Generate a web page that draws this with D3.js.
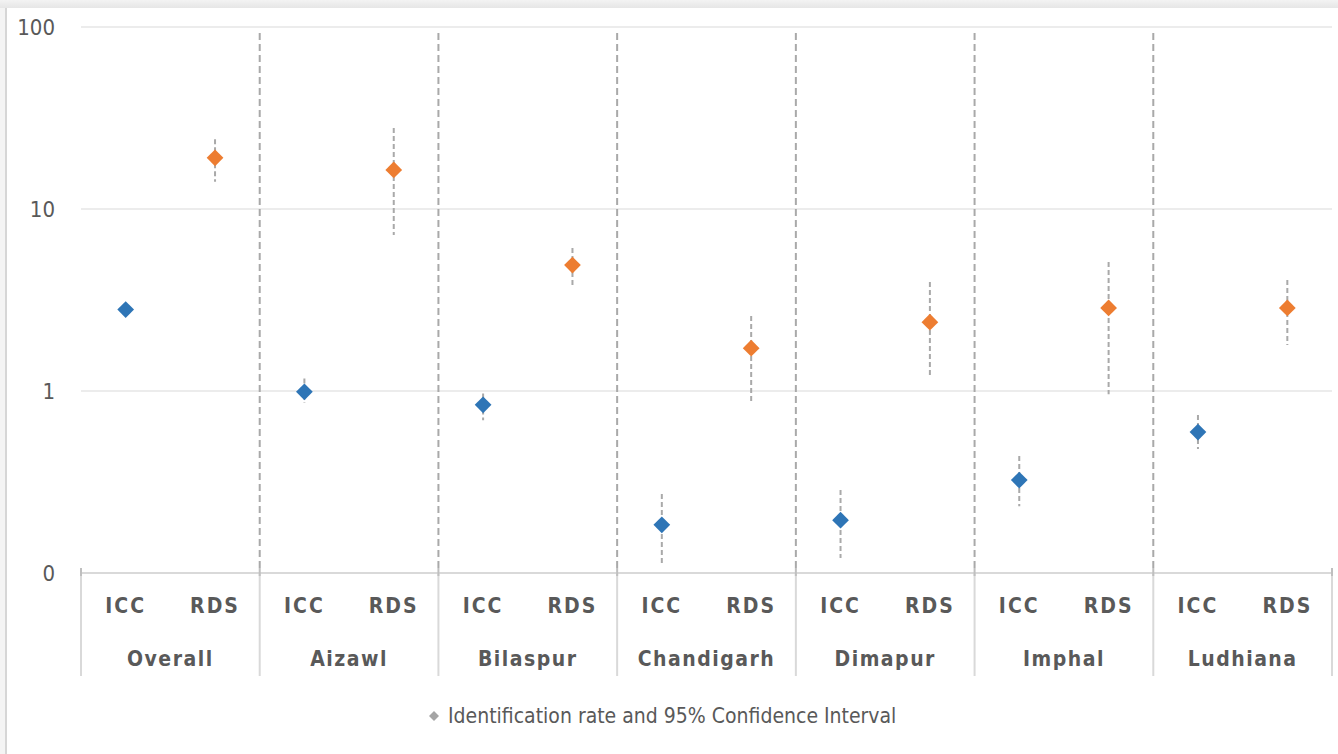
<!DOCTYPE html>
<html>
<head>
<meta charset="utf-8">
<script src="https://cdn.jsdelivr.net/npm/d3@7"></script>
<style>
  html, body { margin: 0; padding: 0; background: #fff; }
  svg { display: block; }
  text { font-family: "Liberation Sans Narrow", "DejaVu Sans Condensed", "Open Sans", sans-serif; fill: #595959; }
</style>
</head>
<body>
<svg id="chart" width="1338" height="754"></svg>
<script>
// Sites (outer axis level) and survey methods (inner axis level)
const sites = ["Overall", "Aizawl", "Bilaspur", "Chandigarh", "Dimapur", "Imphal", "Ludhiana"];
const methods = ["ICC", "RDS"];

// Identification rate (%) per site, one array per method
const iccRate = [2.8, 0.99, 0.84, 0.184, 0.195, 0.324, 0.595];
const rdsRate = [19.1, 16.4, 4.92, 1.72, 2.39, 2.86, 2.86];

// 95% confidence interval bounds
const iccLow  = [2.6, 0.86, 0.69, 0.111, 0.121, 0.233, 0.48];
const iccHigh = [3.0, 1.17, 0.97, 0.272, 0.286, 0.44, 0.738];
const rdsLow  = [14.1, 7.2, 3.68, 0.85, 1.22, 0.96, 1.79];
const rdsHigh = [24.2, 27.9, 6.1, 2.58, 3.97, 5.11, 4.07];

// Y axis ticks and their printed labels
const yTicks = [0.1, 1, 10, 100];
const yTickLabels = ["0", "1", "10", "100"];

const legendLabel = "Identification rate and 95% Confidence Interval";

const colors = { ICC: "#2E75B6", RDS: "#ED7D31" };

const svg = d3.select("#chart");

// Card frame: soft top shadow and a thin left edge
const defs = svg.append("defs");
const grad = defs.append("linearGradient").attr("id", "topShade").attr("x1", 0).attr("y1", 0).attr("x2", 0).attr("y2", 1);
grad.append("stop").attr("offset", "0%").attr("stop-color", "#f3f3f3");
grad.append("stop").attr("offset", "100%").attr("stop-color", "#e6e6e6");
svg.append("rect").attr("x", 0).attr("y", 0).attr("width", 1338).attr("height", 8).attr("fill", "url(#topShade)");
svg.append("rect").attr("x", 0).attr("y", 8).attr("width", 5).attr("height", 746).attr("fill", "#f4f4f4");
svg.append("rect").attr("x", 5).attr("y", 8).attr("width", 2).attr("height", 746).attr("fill", "#d6d6d6");

const plot = { left: 81, right: 1332, top: 27, bottom: 573 };

const y = d3.scaleLog().domain([0.1, 100]).range([plot.bottom, plot.top]);
const xGroup = d3.scaleBand().domain(sites).range([plot.left, plot.right]).paddingInner(0).paddingOuter(0);
const xSub = d3.scaleBand().domain(methods).range([0, xGroup.bandwidth()]);

// Horizontal gridlines
svg.append("g").selectAll("line")
  .data(yTicks.slice(1))
  .join("line")
  .attr("x1", plot.left).attr("x2", plot.right)
  .attr("y1", d => y(d)).attr("y2", d => y(d))
  .attr("stroke", "#ececec").attr("stroke-width", 2);

// Y axis labels
const yAxis = d3.axisLeft(y).tickValues(yTicks).tickFormat((d, i) => yTickLabels[i]).tickSize(0).tickPadding(0);
const yg = svg.append("g").attr("transform", `translate(${plot.left - 26},0)`).call(yAxis);
yg.select(".domain").remove();
yg.selectAll("text")
  .attr("font-size", 22)
  .attr("fill", "#595959")
  .attr("dy", "0.35em")
  .style("font-family", "\"Liberation Sans Narrow\", \"DejaVu Sans Condensed\", sans-serif");

// Dashed separators between sites inside the plot
const inner = sites.slice(1).map(s => xGroup(s));
svg.append("g").selectAll("line")
  .data(inner)
  .join("line")
  .attr("x1", d => d).attr("x2", d => d)
  .attr("y1", 33).attr("y2", plot.bottom)
  .attr("stroke", "#a9a9a9").attr("stroke-width", 2)
  .attr("stroke-dasharray", "7,4");

// Category axis: baseline, boundary lines below the plot
const bounds = sites.map(s => xGroup(s)).concat([plot.right]);
svg.append("line")
  .attr("x1", plot.left).attr("x2", plot.right)
  .attr("y1", plot.bottom).attr("y2", plot.bottom)
  .attr("stroke", "#d9d9d9").attr("stroke-width", 2);
svg.append("g").selectAll("line")
  .data(bounds)
  .join("line")
  .attr("x1", d => d).attr("x2", d => d)
  .attr("y1", plot.bottom).attr("y2", 676)
  .attr("stroke", "#d9d9d9").attr("stroke-width", 2);
svg.append("g").selectAll("line")
  .data(bounds)
  .join("line")
  .attr("x1", d => d).attr("x2", d => d)
  .attr("y1", plot.bottom - 5).attr("y2", plot.bottom + 3)
  .attr("stroke", "#bfbfbf").attr("stroke-width", 2);

// Inner labels (ICC / RDS)
const subLabels = [];
sites.forEach(s => methods.forEach(m => subLabels.push({ s, m })));
svg.append("g").selectAll("text")
  .data(subLabels)
  .join("text")
  .attr("x", d => xGroup(d.s) + xSub(d.m) + xSub.bandwidth() / 2)
  .attr("y", 613)
  .attr("text-anchor", "middle")
  .attr("font-size", 21)
  .attr("font-weight", "bold")
  .attr("letter-spacing", 2)
  .text(d => d.m);

// Outer labels (sites)
svg.append("g").selectAll("text")
  .data(sites)
  .join("text")
  .attr("x", d => xGroup(d) + xGroup.bandwidth() / 2)
  .attr("y", 666)
  .attr("text-anchor", "middle")
  .attr("font-size", 21)
  .attr("font-weight", "bold")
  .attr("letter-spacing", 1.5)
  .text(d => d);

// Points with confidence intervals
const points = [];
sites.forEach((s, i) => {
  points.push({ s, m: "ICC", v: iccRate[i], lo: iccLow[i], hi: iccHigh[i] });
  points.push({ s, m: "RDS", v: rdsRate[i], lo: rdsLow[i], hi: rdsHigh[i] });
});
const px = d => xGroup(d.s) + xSub(d.m) + xSub.bandwidth() / 2;

svg.append("g").selectAll("line")
  .data(points)
  .join("line")
  .attr("x1", px).attr("x2", px)
  .attr("y1", d => y(d.hi)).attr("y2", d => y(d.lo))
  .attr("stroke", "#a9a9a9").attr("stroke-width", 2)
  .attr("stroke-dasharray", "5,3");

const diamond = d3.symbol().type(d3.symbolSquare).size(140);
svg.append("g").selectAll("path")
  .data(points)
  .join("path")
  .attr("d", diamond)
  .attr("transform", d => `translate(${px(d)},${y(d.v)}) rotate(45)`)
  .attr("fill", d => colors[d.m]);

// Legend
const lg = svg.append("g").attr("transform", "translate(434,716)");
lg.append("path")
  .attr("d", d3.symbol().type(d3.symbolSquare).size(50))
  .attr("transform", "rotate(45)")
  .attr("fill", "#a5a5a5");
lg.append("text")
  .attr("x", 14).attr("y", 0).attr("dy", "0.35em")
  .attr("font-size", 21)
  .text(legendLabel);
</script>
</body>
</html>
